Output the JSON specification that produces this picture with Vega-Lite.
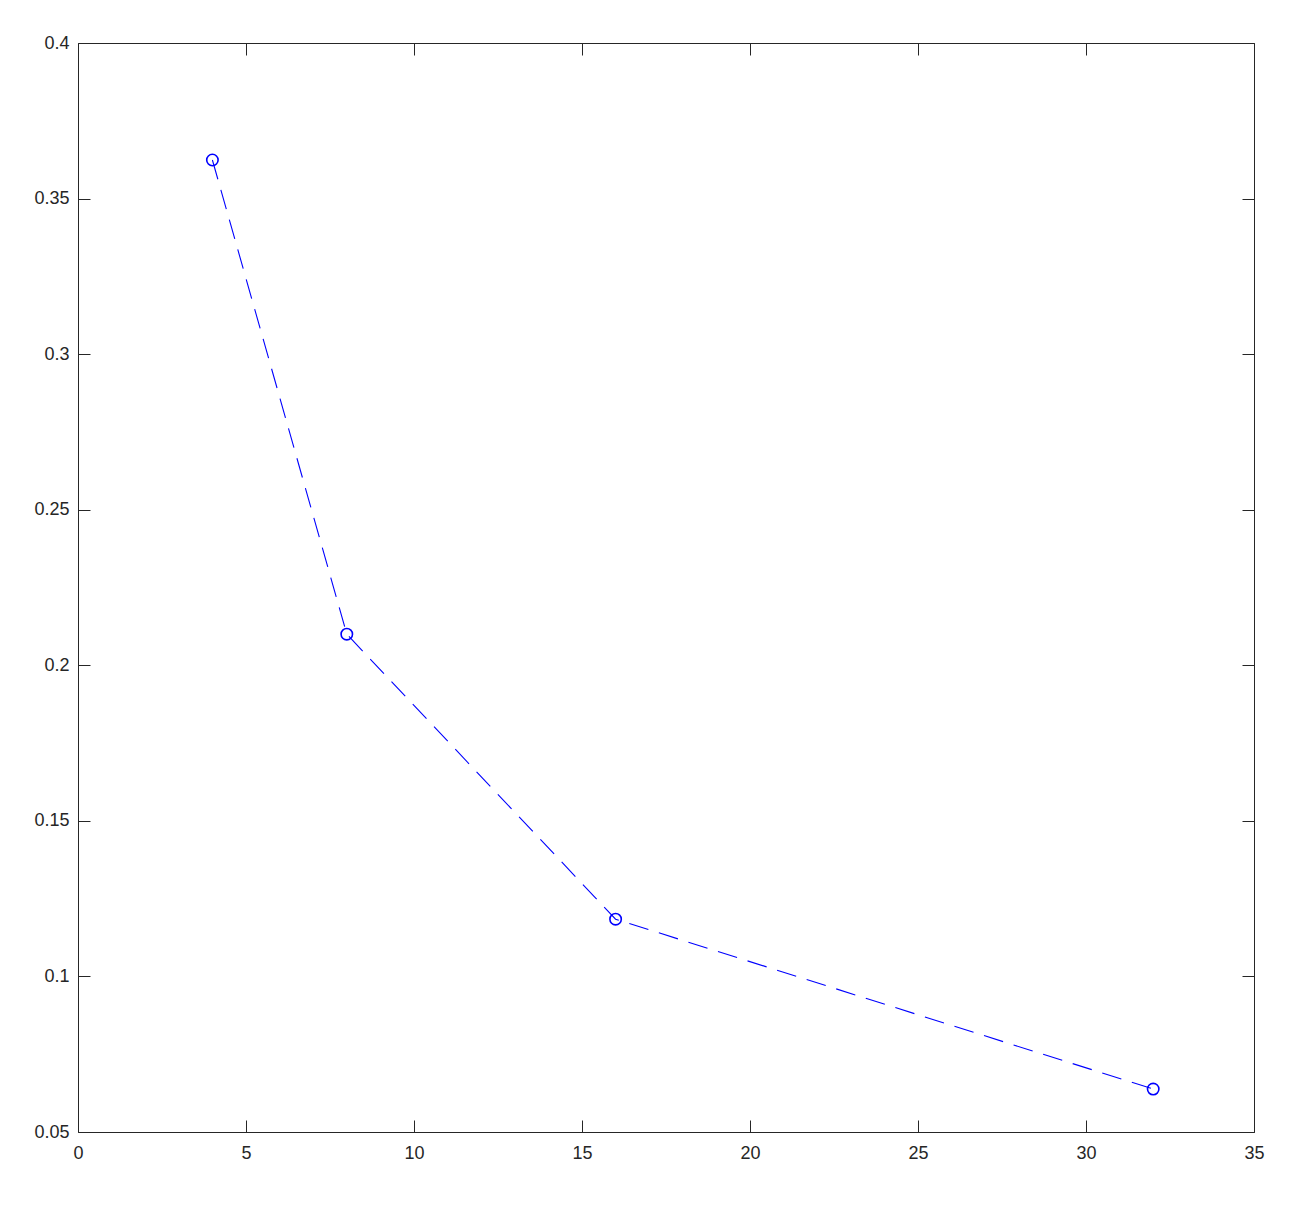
{
  "$schema": "https://vega.github.io/schema/vega-lite/v6.json",
  "width": 1176,
  "height": 1089,
  "autosize": {"type": "none"},
  "padding": {"left": 78, "top": 43, "right": 52, "bottom": 84},
  "background": "white",
  "config": {
    "view": {"stroke": null},
    "axis": {
      "domainColor": "#262626",
      "tickColor": "#262626",
      "labelColor": "#262626",
      "labelFont": "Liberation Sans",
      "labelFontSize": 18,
      "labelFlush": false,
      "labelOverlap": false,
      "grid": false,
      "tickSize": -12,
      "domainWidth": 1,
      "tickWidth": 1
    }
  },
  "data": {
    "values": [
      {"n": 4, "v": 0.3624},
      {"n": 8, "v": 0.2100},
      {"n": 16, "v": 0.1184},
      {"n": 32, "v": 0.0638}
    ]
  },
  "resolve": {"axis": {"x": "independent", "y": "independent"}},
  "layer": [
    {
      "mark": {"type": "line", "color": "#0000ff", "strokeWidth": 1.1, "strokeDash": [20, 11], "clip": true},
      "encoding": {
        "x": {"field": "n", "type": "quantitative", "scale": {"domain": [0, 35], "nice": false, "zero": false},
          "axis": {"title": null, "orient": "bottom", "values": [0, 5, 10, 15, 20, 25, 30, 35], "labelPadding": 24}},
        "y": {"field": "v", "type": "quantitative", "scale": {"domain": [0.05, 0.4], "nice": false, "zero": false},
          "axis": {"title": null, "orient": "left", "values": [0.05, 0.1, 0.15, 0.2, 0.25, 0.3, 0.35, 0.4], "labelPadding": 21, "labelExpr": "datum.value"}}
      }
    },
    {
      "mark": {"type": "point", "shape": "circle", "filled": false, "color": "#0000ff", "strokeWidth": 1.6, "size": 130, "opacity": 1},
      "encoding": {
        "x": {"field": "n", "type": "quantitative",
          "axis": {"title": null, "orient": "top", "values": [0, 5, 10, 15, 20, 25, 30, 35], "labels": false}},
        "y": {"field": "v", "type": "quantitative",
          "axis": {"title": null, "orient": "right", "values": [0.05, 0.1, 0.15, 0.2, 0.25, 0.3, 0.35, 0.4], "labels": false}}
      }
    }
  ]
}
